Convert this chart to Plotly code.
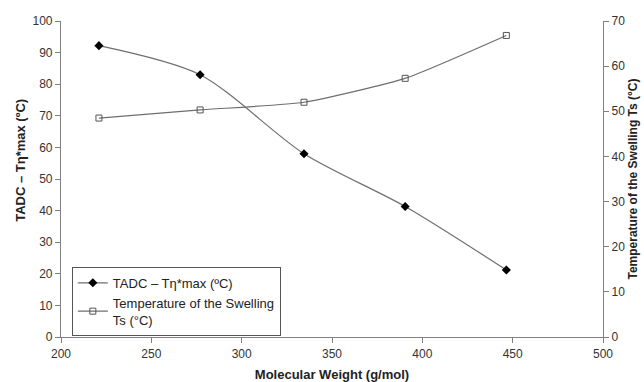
import plotly.graph_objects as go

# Molecular weight of each sample (g/mol)
mol_weight = [221, 277, 334.5, 390.5, 446.5]
# TADC - Tη*max (ºC), left axis
tadc = [92.2, 83.0, 58.0, 41.3, 21.2]
# Temperature of the swelling Ts (°C), right axis
swelling = [48.5, 50.3, 52.0, 57.3, 66.8]

x_ticks = [200, 250, 300, 350, 400, 450, 500]

font_family = "Liberation Sans, Arial, sans-serif"
line_col = "#6e6e6e"

fig = go.Figure()
fig.add_trace(go.Scatter(
    x=mol_weight, y=tadc, mode="lines+markers",
    name="TADC – Tη*max (ºC)",
    line=dict(color=line_col, width=1.2, shape="spline", smoothing=0.8),
    marker=dict(symbol="diamond", size=7, color="black", line=dict(width=0)),
    yaxis="y",
))
fig.add_trace(go.Scatter(
    x=mol_weight, y=swelling, mode="lines+markers",
    name="Temperature of the Swelling<br>Ts (°C)",
    line=dict(color=line_col, width=1.2, shape="spline", smoothing=0.5),
    marker=dict(symbol="square-open", size=6, color="#555555", line=dict(width=1)),
    yaxis="y2",
))

axis_common = dict(
    showgrid=False, zeroline=False, showline=True, linecolor="#808080", linewidth=1.2,
    ticks="outside", ticklen=5, tickcolor="#808080", automargin=False,
    tickfont=dict(family=font_family, size=12, color="#333333"),
)

title_font = dict(family=font_family, size=13, color="#222222")

fig.update_layout(
    width=644, height=382,
    margin=dict(l=61, r=41, t=21, b=45, autoexpand=False),
    paper_bgcolor="white", plot_bgcolor="white",
    font=dict(family=font_family, color="#222222"),
    xaxis=dict(
        range=[200, 500], tickvals=x_ticks, **axis_common,
        title=dict(text="<b>Molecular Weight (g/mol)</b>", font=title_font, standoff=12),
    ),
    yaxis=dict(range=[0, 100], dtick=10, **axis_common),
    yaxis2=dict(
        range=[0, 70], dtick=10, overlaying="y", side="right", **axis_common,
        title=dict(text="<b>Temperature of the Swelling Ts (°C)</b>",
                   font=dict(family=font_family, size=12, color="#222222"), standoff=4),
    ),
    legend=dict(
        x=0.02, y=0.222, xanchor="left", yanchor="top",
        bordercolor="#555555", borderwidth=1, bgcolor="white",
        font=dict(family=font_family, size=13, color="#222222"),
        tracegroupgap=0, itemwidth=30,
    ),
    showlegend=True,
)

# Left axis title, placed a little above the middle of the axis
fig.add_annotation(
    text="<b>TADC – Tη*max (ºC)</b>", textangle=-90,
    xref="paper", yref="paper", x=-0.076, y=0.56,
    xanchor="center", yanchor="middle", showarrow=False, font=title_font,
)

fig.write_html("out.html")
